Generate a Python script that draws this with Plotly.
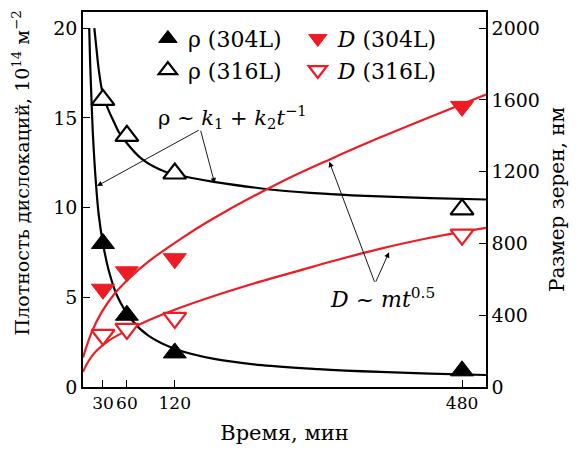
import plotly.graph_objects as go

# ---- data ----
t_pts = [30, 60, 120, 480]
rho_304 = [8.0, 4.0, 1.9, 0.9]
rho_316 = [16.0, 14.0, 11.9, 9.9]
D_304 = [545, 642, 715, 1564]
D_316 = [290, 324, 385, 849]

# fitted curves
rho304_fit_t = [12.8, 14, 15.4, 17.5, 21.3, 24.7, 30, 37.2, 47.6, 66.4, 87.3, 120.7, 171, 229, 300, 377, 440, 510]
rho304_fit_v = [20.0, 18.0, 16.3, 14.0, 11.3, 9.6, 8.0, 6.5, 5.1, 3.72, 2.85, 2.12, 1.55, 1.22, 1.0, 0.84, 0.75, 0.67]
rho316_fit_t = [19.2, 22, 24.7, 30, 37.2, 43.5, 50, 58, 79, 108, 141.6, 167, 252, 315, 377, 440, 510]
rho316_fit_v = [20.0, 18.8, 17.7, 16.3, 15.4, 14.8, 14.2, 13.7, 12.7, 12.0, 11.65, 11.45, 10.95, 10.75, 10.62, 10.53, 10.45]
D304_fit_t = [5, 16.3, 28.8, 45.5, 66.4, 87.3, 129, 166.7, 252, 315, 377, 440, 510]
D304_fit_v = [165, 310, 420, 525, 620, 700, 830, 935, 1140, 1270, 1390, 1505, 1630]
D316_fit_t = [5, 12, 20.4, 37.2, 58, 87.3, 120.7, 171, 229, 277, 315, 377, 440, 510]
D316_fit_v = [85, 145, 195, 258, 310, 372, 432, 510, 590, 650, 698, 770, 832, 887]

x_ticks = [30, 60, 120, 480]
y_ticks = [0, 5, 10, 15, 20]
y2_ticks = [0, 400, 800, 1200, 1600, 2000]

FONT = "DejaVu Serif"
FS_TICK = 19
FS_TITLE = 20
FS_LEG = 22
RED = "#ED1C24"

fig = go.Figure()

# curves
line_k = dict(color="black", width=2.2, shape="spline")
line_r = dict(color=RED, width=2.2, shape="spline")
fig.add_trace(go.Scatter(x=rho304_fit_t, y=rho304_fit_v, mode="lines", line=line_k, showlegend=False, hoverinfo="skip"))
fig.add_trace(go.Scatter(x=rho316_fit_t, y=rho316_fit_v, mode="lines", line=line_k, showlegend=False, hoverinfo="skip"))
fig.add_trace(go.Scatter(x=D304_fit_t, y=D304_fit_v, mode="lines", line=line_r, showlegend=False, hoverinfo="skip", yaxis="y2"))
fig.add_trace(go.Scatter(x=D316_fit_t, y=D316_fit_v, mode="lines", line=line_r, showlegend=False, hoverinfo="skip", yaxis="y2"))

MS = 20
fig.add_trace(go.Scatter(x=t_pts, y=rho_304, mode="markers", name="ρ (304L)", legend="legend", legendgroup="a",
                         marker=dict(symbol="triangle-up", size=MS, color="black", line=dict(color="black", width=1))))
fig.add_trace(go.Scatter(x=t_pts, y=rho_316, mode="markers", name="ρ (316L)", legend="legend", legendgroup="b",
                         marker=dict(symbol="triangle-up", size=MS, color="white", line=dict(color="black", width=2.2))))
fig.add_trace(go.Scatter(x=t_pts, y=D_304, mode="markers", name="<i>D</i> (304L)", legend="legend2", legendgroup="c",
                         yaxis="y2",
                         marker=dict(symbol="triangle-down", size=MS, color=RED, line=dict(color=RED, width=1))))
fig.add_trace(go.Scatter(x=t_pts, y=D_316, mode="markers", name="<i>D</i> (316L)", legend="legend2", legendgroup="d",
                         yaxis="y2",
                         marker=dict(symbol="triangle-down", size=MS, color="white", line=dict(color=RED, width=2.2))))

axis_common = dict(showline=True, linecolor="black", linewidth=1.5, ticks="inside", ticklen=7, tickwidth=1,
                   tickcolor="black", showgrid=False, zeroline=False, tickangle=0)

# page body has an 8px margin: plot area placed so it lands at x 83..486, y 12..387 in the window
fig.update_layout(
    width=581, height=454,
    margin=dict(l=75, r=103, t=4, b=75, autoexpand=False),
    paper_bgcolor="white", plot_bgcolor="white",
    font=dict(family=FONT, size=FS_TITLE, color="black"),
    xaxis=dict(range=[5, 510], tickvals=x_ticks, mirror=True,
               tickfont=dict(family=FONT, size=17, color="black"),
               title=dict(text="Время, мин", font=dict(family=FONT, size=21), standoff=13), **axis_common),
    yaxis=dict(range=[0, 20.9], tickvals=y_ticks,
               tickfont=dict(family=FONT, size=FS_TICK, color="black"), **axis_common),
    yaxis2=dict(range=[0, 2090], tickvals=y2_ticks, overlaying="y", side="right",
                tickfont=dict(family=FONT, size=FS_TICK, color="black"),
                title=dict(text="Размер зерен, нм", font=dict(family=FONT, size=FS_TITLE), standoff=11), **axis_common),
    legend=dict(x=0.161, y=0.985, xanchor="left", yanchor="top", bgcolor="rgba(0,0,0,0)",
                font=dict(family=FONT, size=FS_LEG), tracegroupgap=0),
    legend2=dict(x=0.533, y=0.985, xanchor="left", yanchor="top", bgcolor="rgba(0,0,0,0)",
                 font=dict(family=FONT, size=FS_LEG), tracegroupgap=0),
    showlegend=True,
)

ann = []
# left axis title
ann.append(dict(text="Плотность дислокаций, 10<sup>14</sup> м<sup>−2</sup>", xref="paper", yref="paper",
                x=-0.155, y=0.571, textangle=-90, showarrow=False, font=dict(family=FONT, size=19),
                xanchor="center", yanchor="middle"))
# formula labels
ann.append(dict(text="ρ ~ <i>k</i><sub>1</sub> + <i>k</i><sub>2</sub><i>t</i><sup>−1</sup>", xref="x", yref="y",
                x=192, y=15.05, showarrow=False, font=dict(family=FONT, size=21)))
ann.append(dict(text="<i>D</i> ~ <i>mt</i><sup>0.5</sup>", xref="x", yref="y",
                x=380, y=4.96, showarrow=False, font=dict(family=FONT, size=22)))
# arrows
arrow = dict(text="", showarrow=True, arrowhead=2, arrowsize=1.2, arrowwidth=0.9, arrowcolor="black", standoff=0)
ann.append(dict(x=22.5, y=11.2, ax=152, ay=14.36, xref="x", yref="y", axref="x", ayref="y", **arrow))
ann.append(dict(x=170, y=11.35, ax=152, ay=14.36, xref="x", yref="y", axref="x", ayref="y", **arrow))
ann.append(dict(x=313.6, y=1256, ax=371, ay=578, xref="x", yref="y2", axref="x", ayref="y2", **arrow))
ann.append(dict(x=388.5, y=751, ax=371, ay=578, xref="x", yref="y2", axref="x", ayref="y2", **arrow))
fig.update_layout(annotations=ann)

fig.write_html("out.html")
